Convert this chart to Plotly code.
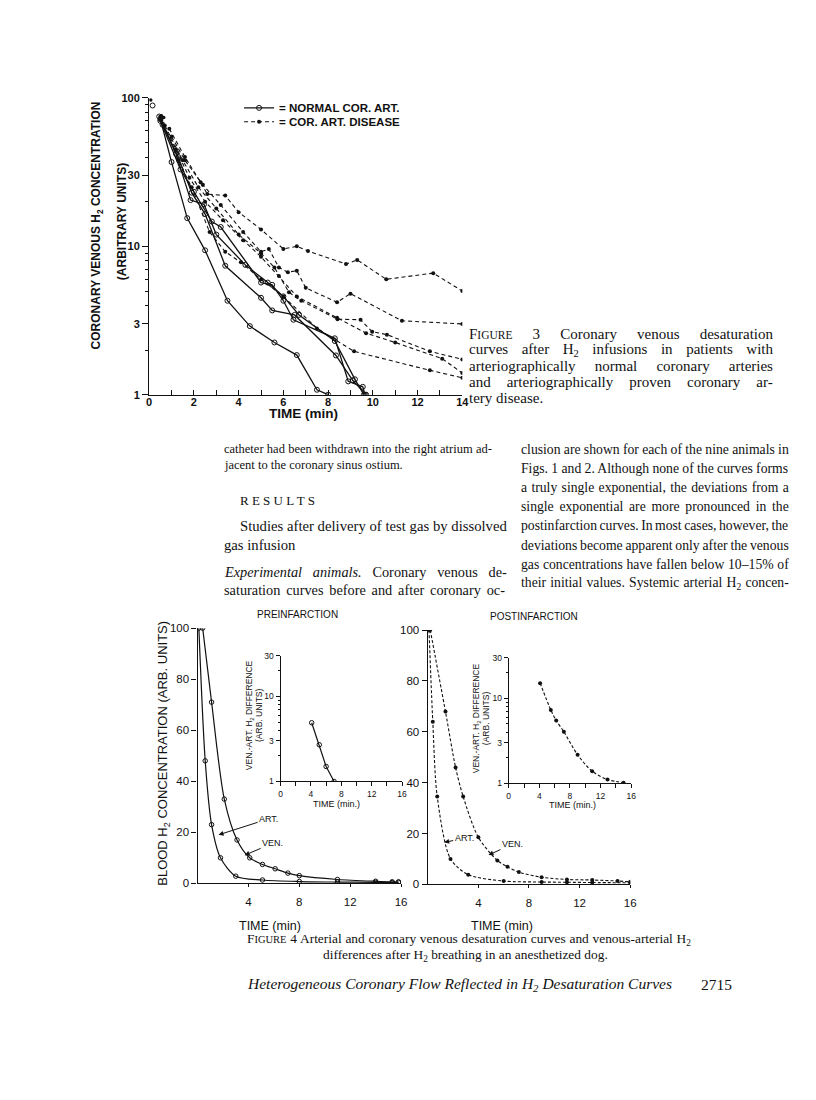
import re
import plotly.graph_objects as go

W, H = 816, 1100
def px(x): return x / W
def py(y): return 1 - y / H

# ---------------- Figure 3 data ----------------
n1_x = [0.5, 1.0, 1.7, 2.5, 3.5, 4.5, 5.6, 6.6, 7.5, 8.0]
n1_y = [72, 37, 15.5, 9.4, 4.3, 2.9, 2.25, 1.85, 1.08, 1.0]
n2_x = [0.6, 1.3, 1.9, 2.5, 3.4, 5.0, 5.5, 6.5, 8.35, 9.1, 9.7]
n2_y = [66, 40, 23, 16.5, 7.4, 4.5, 3.7, 3.45, 1.84, 1.25, 1.0]
n3_x = [0.5, 1.4, 2.0, 2.8, 3.2, 5.0, 5.5, 6.0, 6.45, 8.3, 8.9, 9.55, 9.65]
n3_y = [70, 33, 23.3, 14.7, 13.5, 5.7, 5.5, 4.3, 3.2, 2.4, 1.23, 1.13, 1.0]
n4_x = [0.45, 1.2, 1.85, 2.45, 3.0, 4.3, 5.3, 6.0, 6.7, 8.3, 9.2, 9.6]
n4_y = [75, 42, 20.5, 19.2, 12, 7.5, 5.7, 4.6, 3.45, 2.3, 1.27, 1.0]
normal_series = [(n1_x, n1_y), (n2_x, n2_y), (n3_x, n3_y), (n4_x, n4_y)]

d1_x = [0.9, 1.6, 2.3, 2.6, 3.4, 4.0, 5.0, 6.0, 6.6, 7.1, 8.8, 9.3, 10.6, 12.7, 14.0]
d1_y = [62, 40, 27, 22.5, 22, 17, 13, 9.6, 10, 9.3, 7.6, 8.1, 6.0, 6.6, 5.0]
d2_x = [1.0, 1.6, 2.4, 3.2, 4.2, 5.0, 5.35, 5.8, 6.2, 6.6, 7.0, 8.4, 9.0, 11.3, 14.0]
d2_y = [55, 38, 26, 19, 12.5, 9.2, 9.6, 7.2, 6.7, 6.85, 5.25, 4.2, 4.8, 3.15, 3.0]
d3_x = [0.7, 1.5, 2.2, 3.0, 4.0, 5.0, 5.6, 6.25, 6.8, 8.42, 9.45, 9.97, 10.63, 12.55, 14.0]
d3_y = [65, 38, 25, 18, 12, 9, 7.2, 4.9, 4.3, 3.23, 3.2, 2.66, 2.54, 1.96, 1.73]
d4_x = [0.5, 1.2, 1.8, 2.5, 3.3, 4.2, 5.0, 5.8, 6.6, 8.4, 9.7, 11.0, 13.1, 14.0]
d4_y = [72, 45, 29, 20, 15, 11, 8.5, 6.3, 4.6, 3.3, 2.6, 2.25, 1.75, 1.4]
d5_x = [0.5, 1.3, 1.9, 2.7, 3.4, 4.1, 5.0, 6.0, 7.5, 9.16, 12.55, 14.0]
d5_y = [75, 38, 25, 12.5, 9.2, 7.8, 6.0, 4.6, 2.8, 1.96, 1.46, 1.3]
disease_series = [(d1_x, d1_y), (d2_x, d2_y), (d3_x, d3_y), (d4_x, d4_y), (d5_x, d5_y)]

top_open_x = [0.15]
top_open_y = [89]
top_dot_x = [0.07, 0.55, 0.65]
top_dot_y = [97, 76, 74]

fig3_yticks = [1, 3, 10, 30, 100]
fig3_yminor = [2, 4, 5, 6, 7, 8, 9, 20, 40, 50, 60, 70, 80, 90]
fig3_xticks = list(range(0, 15))
fig3_xtext = [str(v) if v % 2 == 0 else "" for v in fig3_xticks]

# ---------------- Figure 4 data ----------------
pre_art_x = [0.1, 0.6, 1.1, 1.8, 3.0, 5.1, 8.0, 11.0, 14.0, 15.3, 15.8]
pre_art_y = [100, 48, 23, 10, 2.8, 1.3, 0.7, 0.5, 0.4, 0.3, 0.3]
pre_ven_x = [0.4, 1.1, 2.1, 3.1, 4.1, 5.1, 6.1, 7.1, 8.0, 11.0, 14.0, 15.3, 15.8]
pre_ven_y = [100, 71, 33, 17, 10, 7.4, 5.7, 4.0, 3.0, 1.5, 0.8, 0.6, 0.6]
post_art_x = [0.1, 0.4, 0.75, 1.8, 3.2, 6.0, 9.0, 11.0, 13.0, 16.0]
post_art_y = [100, 64, 34.5, 10, 3.8, 1.3, 0.9, 0.8, 0.7, 0.6]
post_ven_x = [0.2, 1.4, 2.2, 2.8, 4.0, 5.5, 6.3, 7.2, 9.0, 11.0, 13.0, 15.0, 16.0]
post_ven_y = [100, 68, 46, 34.5, 18.5, 9.4, 6.9, 4.8, 2.8, 1.9, 1.7, 1.3, 1.0]

pre_diff_x = [4.1, 5.1, 6.0, 7.05]
pre_diff_y = [4.9, 2.7, 1.5, 1.0]
post_diff_x = [4.1, 5.5, 6.2, 7.2, 9.0, 10.9, 12.9, 15.0]
post_diff_y = [15.1, 7.3, 5.5, 4.05, 2.17, 1.39, 1.11, 1.02]

fig4_yticks = [0, 20, 40, 60, 80, 100]
fig4_xticks = [4, 8, 12, 16]
inset_yticks = [1, 3, 10, 30]
inset_yminor = [2, 4, 5, 6, 7, 8, 9, 20]
inset_xticks = list(range(0, 17, 2))
inset_xtext = [str(v) if v % 4 == 0 else "" for v in inset_xticks]

# ---------------- text ----------------
cap3_lines = ["F<span style='font-size:11.5px'>IGURE</span> 3 Coronary venous desaturation",
              "curves after H<sub>2</sub> infusions in patients with",
              "arteriographically normal coronary arteries",
              "and arteriographically proven coronary ar-",
              "tery disease."]
right_col = ["clusion are shown for each of the nine animals in",
             "Figs. 1 and 2. Although none of the curves forms",
             "a truly single exponential, the deviations from a",
             "single exponential are more pronounced in the",
             "postinfarction curves. In most cases, however, the",
             "deviations become apparent only after the venous",
             "gas concentrations have fallen below 10–15% of",
             "their initial values. Systemic arterial H<sub>2</sub> concen-"]

SANS = "Liberation Sans"
SERIF = "Liberation Serif"
INK = "#111111"

# Times-metric widths (per 1000 em) used to justify lines
TW = {' ': 250, '.': 250, ',': 250, '-': 333, '–': 500, '%': 833, '(': 333, ')': 333, ':': 278}
TW.update({c: 500 for c in "0123456789"})
TW.update(dict(zip("ABCDEFGHIJKLMNOPQRSTUVWXYZ",
                   [722, 667, 667, 722, 611, 556, 722, 722, 333, 389, 722, 611, 889, 722, 722,
                    556, 722, 667, 556, 611, 722, 722, 944, 722, 722, 611])))
TW.update(dict(zip("abcdefghijklmnopqrstuvwxyz",
                   [444, 500, 444, 500, 444, 333, 500, 500, 278, 278, 500, 278, 778, 500, 500,
                    500, 500, 333, 389, 278, 500, 500, 722, 500, 500, 444])))

def measure(html, size):
    total, scale = 0.0, 1.0
    for t in re.split(r'(<[^>]+>)', html):
        if t.startswith('<'):
            if t.startswith('<sub'):
                scale = 0.7
            elif t.startswith('<span'):
                m = re.search(r'font-size:([\d.]+)px', t)
                scale = float(m.group(1)) / size if m else 1.0
            elif t.startswith('</'):
                scale = 1.0
            continue
        total += sum(TW.get(ch, 500) for ch in t) * scale
    return total / 1000 * size

def justify(html, size, width):
    plain = re.sub(r'<[^>]+>', '', html)
    n = plain.count(' ')
    if n == 0:
        return html
    ws = (width - measure(html, size)) / n
    return f"<span style='word-spacing:{ws:.2f}px'>{html}</span>"

fig = go.Figure()

# Figure 3 traces
for i, (xs, ys) in enumerate(normal_series):
    fig.add_trace(go.Scatter(
        x=xs, y=ys, mode="lines+markers", xaxis="x", yaxis="y",
        line=dict(color=INK, width=1.3),
        marker=dict(symbol="circle-open", size=5, color=INK, line=dict(width=1)),
        name="= NORMAL COR. ART.", showlegend=(i == 0), legend="legend"))
for i, (xs, ys) in enumerate(disease_series):
    fig.add_trace(go.Scatter(
        x=xs, y=ys, mode="lines+markers", xaxis="x", yaxis="y",
        line=dict(color=INK, width=1.1, dash="4px,3px"),
        marker=dict(symbol="circle", size=4, color=INK),
        name="= COR. ART. DISEASE", showlegend=(i == 0), legend="legend2"))
fig.add_trace(go.Scatter(x=top_open_x, y=top_open_y, mode="markers", xaxis="x", yaxis="y",
                         marker=dict(symbol="circle-open", size=5, color=INK), showlegend=False))
fig.add_trace(go.Scatter(x=top_dot_x, y=top_dot_y, mode="markers", xaxis="x", yaxis="y",
                         marker=dict(symbol="circle", size=3.5, color=INK), showlegend=False))

# Figure 4 traces
solid = dict(color=INK, width=1.2, shape="spline", smoothing=0.8)
dashed = dict(color=INK, width=1.1, dash="3px,2px", shape="spline", smoothing=0.8)
omark = dict(symbol="circle-open", size=4.5, color=INK, line=dict(width=1))
fmark = dict(symbol="circle", size=4, color=INK)
fig.add_trace(go.Scatter(x=pre_art_x, y=pre_art_y, mode="lines+markers", xaxis="x2", yaxis="y2",
                         line=solid, marker=omark, showlegend=False))
fig.add_trace(go.Scatter(x=pre_ven_x, y=pre_ven_y, mode="lines+markers", xaxis="x2", yaxis="y2",
                         line=solid, marker=omark, showlegend=False))
fig.add_trace(go.Scatter(x=post_art_x, y=post_art_y, mode="lines+markers", xaxis="x3", yaxis="y3",
                         line=dashed, marker=fmark, showlegend=False))
fig.add_trace(go.Scatter(x=post_ven_x, y=post_ven_y, mode="lines+markers", xaxis="x3", yaxis="y3",
                         line=dashed, marker=fmark, showlegend=False))
fig.add_trace(go.Scatter(x=pre_diff_x, y=pre_diff_y, mode="lines+markers", xaxis="x4", yaxis="y4",
                         line=dict(color=INK, width=1.2), marker=omark, showlegend=False))
fig.add_trace(go.Scatter(x=post_diff_x, y=post_diff_y, mode="lines+markers", xaxis="x5", yaxis="y5",
                         line=dashed, marker=fmark, showlegend=False))

tickf = dict(family=SANS, size=11, color=INK, weight="bold")
tickf4 = dict(family=SANS, size=11.5, color=INK)
tickfi = dict(family=SANS, size=8.5, color=INK)
axbase = dict(showgrid=False, zeroline=False, showline=True, linecolor=INK, linewidth=1.3,
              tickcolor=INK, mirror=False)
legfont = dict(family=SANS, size=11.5, color=INK, weight="bold")

layout = dict(
    width=W, height=H, margin=dict(l=0, r=0, t=0, b=0),
    paper_bgcolor="white", plot_bgcolor="rgba(0,0,0,0)",
    showlegend=True,
    legend=dict(x=px(239), y=py(103), xanchor="left", yanchor="middle",
                font=legfont, bgcolor="rgba(0,0,0,0)", itemwidth=30),
    legend2=dict(x=px(239), y=py(117), xanchor="left", yanchor="middle",
                 font=legfont, bgcolor="rgba(0,0,0,0)", itemwidth=30),
    xaxis=dict(axbase, domain=[px(148), px(465)], range=[0, 14], anchor="y",
               tickmode="array", tickvals=fig3_xticks, ticktext=fig3_xtext,
               ticks="inside", ticklen=5, tickfont=tickf, ticklabelstandoff=-3),
    yaxis=dict(axbase, domain=[py(393), py(93)], type="log", range=[0, 2], anchor="x",
               tickmode="array", tickvals=fig3_yticks, ticks="outside", ticklen=6,
               tickfont=tickf,
               minor=dict(tickvals=fig3_yminor, ticks="outside", ticklen=3, tickcolor=INK)),
    xaxis2=dict(axbase, domain=[px(197), px(403)], range=[0, 16], anchor="y2",
                tickmode="array", tickvals=fig4_xticks, ticks="outside", ticklen=3,
                tickfont=tickf4, ticklabelstandoff=5),
    yaxis2=dict(axbase, domain=[py(887), py(629)], range=[0, 100], anchor="x2",
                tickmode="array", tickvals=fig4_yticks, ticks="outside", ticklen=5,
                tickfont=tickf4),
    xaxis3=dict(axbase, domain=[px(430), px(635)], range=[0, 16], anchor="y3",
                tickmode="array", tickvals=fig4_xticks, ticks="outside", ticklen=3,
                tickfont=tickf4, ticklabelstandoff=5),
    yaxis3=dict(axbase, domain=[py(888), py(631)], range=[0, 100], anchor="x3",
                tickmode="array", tickvals=fig4_yticks, ticks="outside", ticklen=5,
                tickfont=tickf4),
    xaxis4=dict(axbase, domain=[px(281), px(404)], range=[0, 16], anchor="y4",
                tickmode="array", tickvals=inset_xticks, ticktext=inset_xtext,
                ticks="outside", ticklen=4, tickfont=tickfi, linewidth=1.1),
    yaxis4=dict(axbase, domain=[py(784), py(657)], type="log", range=[0, 1.4771], anchor="x4",
                tickmode="array", tickvals=inset_yticks, ticks="outside", ticklen=4,
                tickfont=tickfi, linewidth=1.1,
                minor=dict(tickvals=inset_yminor, ticks="outside", ticklen=2, tickcolor=INK)),
    xaxis5=dict(axbase, domain=[px(512), px(636)], range=[0, 16], anchor="y5",
                tickmode="array", tickvals=inset_xticks, ticktext=inset_xtext,
                ticks="outside", ticklen=4, tickfont=tickfi, linewidth=1.1),
    yaxis5=dict(axbase, domain=[py(786), py(659)], type="log", range=[0, 1.4771], anchor="x5",
                tickmode="array", tickvals=inset_yticks, ticks="outside", ticklen=4,
                tickfont=tickfi, linewidth=1.1,
                minor=dict(tickvals=inset_yminor, ticks="outside", ticklen=2, tickcolor=INK)),
)
fig.update_layout(**layout)

ann = []
def txt(x, y, s, size=12, family=SERIF, xanchor="left", angle=0, weight="normal", just=None):
    if just is not None:
        s = justify(s, size, just - x)
    ann.append(dict(x=px(x), y=py(y), xref="paper", yref="paper", text=s, showarrow=False,
                    xanchor=xanchor, yanchor="middle", textangle=angle,
                    font=dict(family=family, size=size, color=INK, weight=weight)))

# Figure 3 labels
txt(95, 222, "CORONARY VENOUS H<sub>2</sub> CONCENTRATION", 12, SANS, "center", -90, "bold")
txt(120, 218, "(ARBITRARY UNITS)", 12, SANS, "center", -90, "bold")
txt(304, 412, "TIME (min)", 13.5, SANS, "center", 0, "bold")

# Figure 3 caption
for i, s in enumerate(cap3_lines):
    txt(470, 332 + 16 * i, s, 15, just=(774 if i < 4 else None))

# Body text, left column
txt(222, 448, "catheter had been withdrawn into the right atrium ad-", 12.5, just=490)
txt(222, 464, "jacent to the coronary sinus ostium.", 12.5)
txt(238, 500, "R E S U L T S", 13)
txt(238, 526, "Studies after delivery of test gas by dissolved", 14.7, just=505)
txt(222, 545, "gas infusion", 14.7)
txt(222, 572, "<i>Experimental animals.</i> Coronary venous de-", 14.3, just=503)
txt(222, 590, "saturation curves before and after coronary oc-", 14.3, just=503)

for i, s in enumerate(right_col):
    txt(522, 448 + 19.4 * i, s, 13.7, just=790)

# Figure 4 labels
txt(298, 615, "PREINFARCTION", 10, SANS, "center")
txt(538, 617, "POSTINFARCTION", 10, SANS, "center")
txt(163, 756, "BLOOD H<sub>2</sub> CONCENTRATION (ARB. UNITS)", 13, SANS, "center", -90)
txt(270, 930, "TIME (min)", 12.5, SANS, "center")
txt(505, 930, "TIME (min)", 12.5, SANS, "center")
txt(249, 717, "VEN.-ART. H<sub>2</sub> DIFFERENCE", 8.5, SANS, "center", -90)
txt(259, 717, "(ARB. UNITS)", 8.5, SANS, "center", -90)
txt(479, 720, "VEN.-ART. H<sub>2</sub> DIFFERENCE", 8.5, SANS, "center", -90)
txt(489, 720, "(ARB. UNITS)", 8.5, SANS, "center", -90)
txt(338, 807, "TIME (min.)", 9, SANS, "center")
txt(577, 808, "TIME (min.)", 9, SANS, "center")

# Figure 4 caption and footer
txt(245, 944, "F<span style='font-size:10.5px'>IGURE</span> 4 Arterial and coronary venous desaturation curves and venous-arterial H<sub>2</sub>",
    13.4, just=690)
txt(468, 960, "differences after H<sub>2</sub> breathing in an anesthetized dog.", 13.4, xanchor="center")
txt(245, 989, "<i>Heterogeneous Coronary Flow Reflected in H<sub>2</sub> Desaturation Curves</i>", 15.5)
txt(705, 989, "2715", 15.5)

# ART./VEN. arrows
arrow = dict(showarrow=True, arrowhead=2, arrowsize=1, arrowwidth=1, arrowcolor=INK,
             font=dict(family=SANS, size=9, color=INK))
ann.append(dict(x=1.65, y=19, xref="x2", yref="y2", text="ART.", ax=50, ay=-16, **arrow))
ann.append(dict(x=3.7, y=11, xref="x2", yref="y2", text="VEN.", ax=28, ay=-12, **arrow))
ann.append(dict(x=1.3, y=16.5, xref="x3", yref="y3", text="ART.", ax=20, ay=-4, **arrow))
ann.append(dict(x=4.8, y=11.5, xref="x3", yref="y3", text="VEN.", ax=24, ay=-11, **arrow))

fig.update_layout(annotations=ann)
fig.write_html("out.html", config={"displayModeBar": False},
               post_script="document.body.style.margin='0px';document.body.style.padding='0px';")
